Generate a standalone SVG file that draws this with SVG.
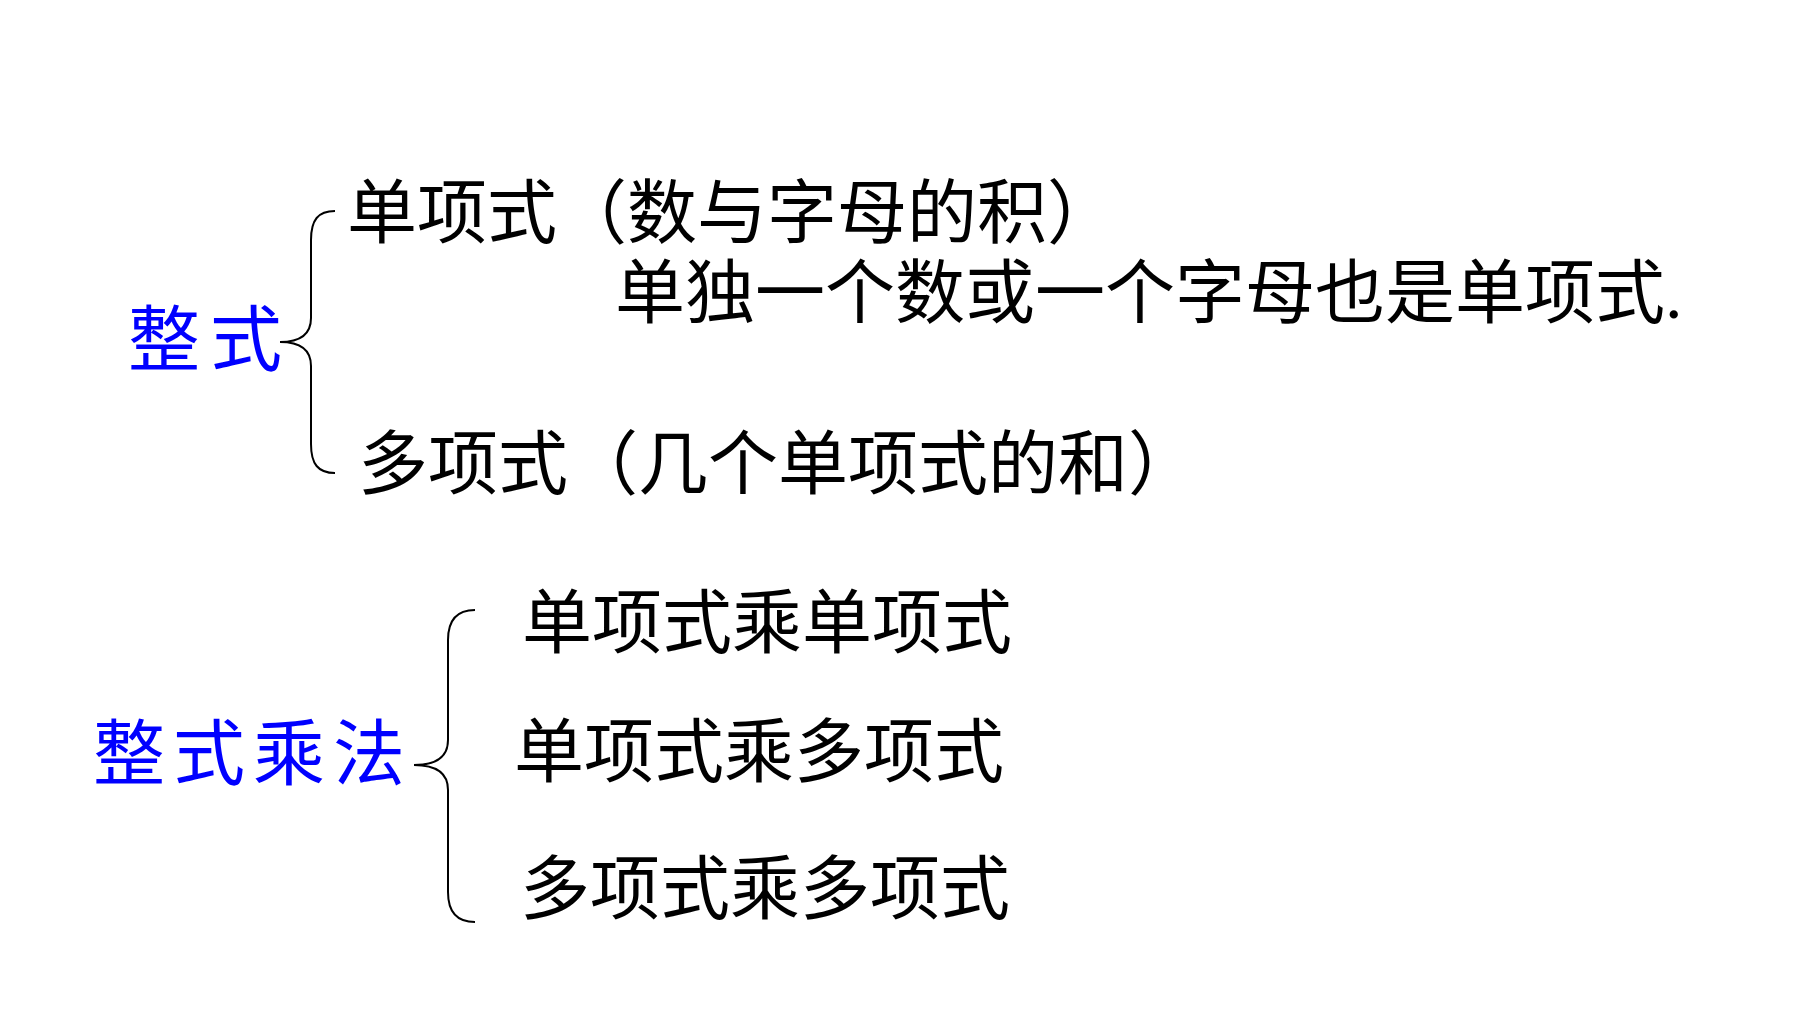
<svg xmlns="http://www.w3.org/2000/svg" width="1800" height="1012" viewBox="0 0 1800 1012">
<style>
.t{font-family:"Liberation Serif","Noto Sans CJK SC",serif;font-size:70px;fill:#000}
.b{font-family:"Noto Sans CJK SC",sans-serif;font-size:72px;fill:#0000ff}
.br{fill:none;stroke:#000;stroke-width:2}
</style>
<rect width="1800" height="1012" fill="#fff"/>
<g id="connectors">
<path class="br" d="M335,211 C318,211 311,220 311,240 L311,318 C311,334 300,342 280,342 C300,342 311,350 311,366 L311,444 C311,464 318,473 335,473"/>
<path class="br" d="M475,610 C457,610 448,620 448,640 L448,740 C448,757 436,765 414,765 C436,765 448,773 448,790 L448,892 C448,912 457,922 475,922"/>
</g>
<g id="zhengshi"><text class="b" x="128" y="365" letter-spacing="10">整式</text></g>
<g id="danxiangshi"><text class="t" x="347" y="238">单项式（数与字母的积）</text></g>
<g id="note"><text class="t" x="615" y="318">单独一个数或一个字母也是单项式.</text></g>
<g id="duoxiangshi"><text class="t" x="358" y="489">多项式（几个单项式的和）</text></g>
<g id="zhengshichengfa"><text class="b" x="93" y="779" letter-spacing="8">整式乘法</text></g>
<g id="m1"><text class="t" x="522" y="648">单项式乘单项式</text></g>
<g id="m2"><text class="t" x="514" y="777">单项式乘多项式</text></g>
<g id="m3"><text class="t" x="520" y="914">多项式乘多项式</text></g>
</svg>
